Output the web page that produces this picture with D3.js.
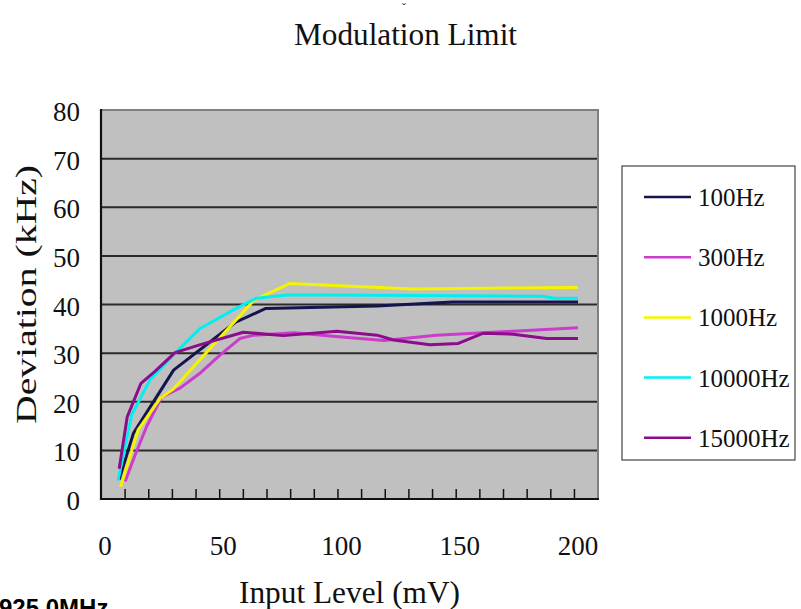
<!DOCTYPE html>
<html><head><meta charset="utf-8">
<script src="https://cdn.jsdelivr.net/npm/d3@7"></script>
<style>html,body{margin:0;padding:0;background:#fff;overflow:hidden}</style>
</head><body>
<svg id="c" width="801" height="609"></svg>
<script>
// ---- data ----
const seriesNames = ["100Hz", "300Hz", "1000Hz", "10000Hz", "15000Hz"];
const seriesColors = ["#14144e", "#cc3ccc", "#f4f400", "#00f0f0", "#8c0c8c"];
const x100 = [6, 12, 29, 55, 68, 115, 147, 200];
const y100 = [4.0, 13.5, 26.5, 36.3, 39.2, 39.7, 40.5, 40.5];
const x300 = [8.5, 12.7, 17.6, 24, 31.7, 40, 48.6, 57, 63, 80, 100, 118, 140, 160, 200];
const y300 = [3.6, 9.0, 14.9, 21.0, 22.8, 25.8, 29.6, 33.0, 33.7, 34.2, 33.3, 32.6, 33.7, 34.2, 35.2];
const x1000 = [6.6, 14, 23.3, 28.9, 63, 78, 130, 200];
const y1000 = [2.5, 14.2, 20.7, 22.6, 40.9, 44.3, 43.2, 43.5];
const x10000 = [5.5, 11.3, 19, 30.3, 40, 54.3, 64, 78, 185, 190, 200];
const y10000 = [3.8, 17.3, 24.5, 30.3, 35.0, 38.9, 41.3, 42.0, 41.7, 41.3, 41.3];
const x15000 = [6, 9.4, 15.2, 21, 29.6, 40, 58.5, 75.4, 98, 115, 122, 137.4, 149.4, 160, 172.6, 186.8, 200];
const y15000 = [6.2, 16.9, 23.8, 26.2, 30.1, 31.7, 34.3, 33.6, 34.5, 33.7, 32.7, 31.7, 32.0, 34.1, 33.9, 33.0, 33.0];
const xTickLabels = [0, 50, 100, 150, 200];
const yTickLabels = [0, 10, 20, 30, 40, 50, 60, 70, 80];
const xMinorTicks = [8.5, 18.5, 28.5, 38.5, 48.5, 58.5, 68.5, 78.5, 88.5, 98.5, 108.5, 118.5, 128.5, 138.5, 148.5, 158.5, 168.5, 178.5, 188.5, 198.5];
const titleText = "Modulation Limit";
const xTitle = "Input Level (mV)";
const yTitle = "Deviation (kHz)";

const seriesX = [x100, x300, x1000, x10000, x15000];
const seriesY = [y100, y300, y1000, y10000, y15000];

// ---- layout ----
const svg = d3.select("#c");
const plotL = 101, plotR = 598, plotT = 110, plotB = 499;
const x = d3.scaleLinear().domain([0, 200]).range([105, 578]);
const y = d3.scaleLinear().domain([0, 80]).range([plotB, plotT]);
const serif = "'Liberation Serif', 'DejaVu Serif', serif";

// plot background
svg.append("rect").attr("x", plotL).attr("y", plotT)
  .attr("width", plotR - plotL).attr("height", plotB - plotT)
  .attr("fill", "#c0c0c0");

// gridlines
svg.append("g").selectAll("line").data(yTickLabels.filter(v => v > 0 && v < 80)).join("line")
  .attr("x1", plotL).attr("x2", plotR)
  .attr("y1", d => y(d)).attr("y2", d => y(d))
  .attr("stroke", "#2a2a2a").attr("stroke-width", 2);

// top/right border gray
svg.append("path")
  .attr("d", `M${plotL},${plotT}H${plotR}V${plotB}`)
  .attr("fill", "none").attr("stroke", "#808080").attr("stroke-width", 2);

// series lines
const line = d3.line().x(d => x(d[0])).y(d => y(d[1]));
seriesNames.forEach((n, i) => {
  const pts = seriesX[i].map((xv, j) => [xv, seriesY[i][j]]);
  svg.append("path").datum(pts).attr("d", line)
    .attr("fill", "none").attr("stroke", seriesColors[i])
    .attr("stroke-width", 3).attr("stroke-linejoin", "round");
});

// left & bottom axis lines
svg.append("path")
  .attr("d", `M${plotL},${plotT - 1}V${plotB}H${plotR + 1}`)
  .attr("fill", "none").attr("stroke", "#111").attr("stroke-width", 2.2);

// x minor ticks (inward)
svg.append("g").selectAll("line").data(xMinorTicks).join("line")
  .attr("x1", d => x(d)).attr("x2", d => x(d))
  .attr("y1", plotB).attr("y2", plotB - 10)
  .attr("stroke", "#111").attr("stroke-width", 1.5);

// y tick labels
svg.append("g").selectAll("text").data(yTickLabels).join("text")
  .attr("x", 80).attr("y", d => y(d) + 11)
  .attr("text-anchor", "end")
  .attr("font-family", serif).attr("font-size", 27).attr("fill", "#111")
  .text(d => d);

// x tick labels
svg.append("g").selectAll("text").data(xTickLabels).join("text")
  .attr("x", d => x(d)).attr("y", 555)
  .attr("text-anchor", "middle")
  .attr("font-family", serif).attr("font-size", 27).attr("fill", "#111")
  .text(d => d);

// title
svg.append("text").attr("x", 294).attr("y", 45)
  .attr("font-family", serif).attr("font-size", 32)
  .attr("textLength", 223).attr("lengthAdjust", "spacingAndGlyphs")
  .attr("fill", "#111").text(titleText);
svg.append("text").attr("x", 404).attr("y", 12).attr("text-anchor", "middle")
  .attr("font-family", serif).attr("font-size", 12).attr("fill", "#333").text("ˇ");

// x axis title
svg.append("text").attr("x", 239).attr("y", 603)
  .attr("font-family", serif).attr("font-size", 31)
  .attr("textLength", 221).attr("lengthAdjust", "spacingAndGlyphs")
  .attr("fill", "#111").text(xTitle);

// y axis title
svg.append("text").attr("transform", "translate(36,424) rotate(-90)")
  .attr("font-family", serif).attr("font-size", 30)
  .attr("textLength", 259).attr("lengthAdjust", "spacingAndGlyphs")
  .attr("fill", "#111").text(yTitle);

// legend
svg.append("rect").attr("x", 622).attr("y", 166).attr("width", 173).attr("height", 294)
  .attr("fill", "#fff").attr("stroke", "#444").attr("stroke-width", 1.2);
const lg = svg.append("g").selectAll("g").data(seriesNames).join("g")
  .attr("transform", (d, i) => `translate(0,${197 + i * 60.2})`);
lg.append("line").attr("x1", 644).attr("x2", 691).attr("y1", 0).attr("y2", 0)
  .attr("stroke", (d, i) => seriesColors[i]).attr("stroke-width", 2.5);
lg.append("text").attr("x", 698).attr("y", 9)
  .attr("font-family", serif).attr("font-size", 25).attr("fill", "#111")
  .text(d => d);

// cut-off footnote at bottom-left (partially outside the frame, as in the reference)
svg.append("text").attr("x", -1).attr("y", 616)
  .attr("font-family", "'Liberation Sans', Arial, sans-serif").attr("font-weight", "bold")
  .attr("font-size", 24).attr("fill", "#000").text("925.0MHz");
</script>
</body></html>
